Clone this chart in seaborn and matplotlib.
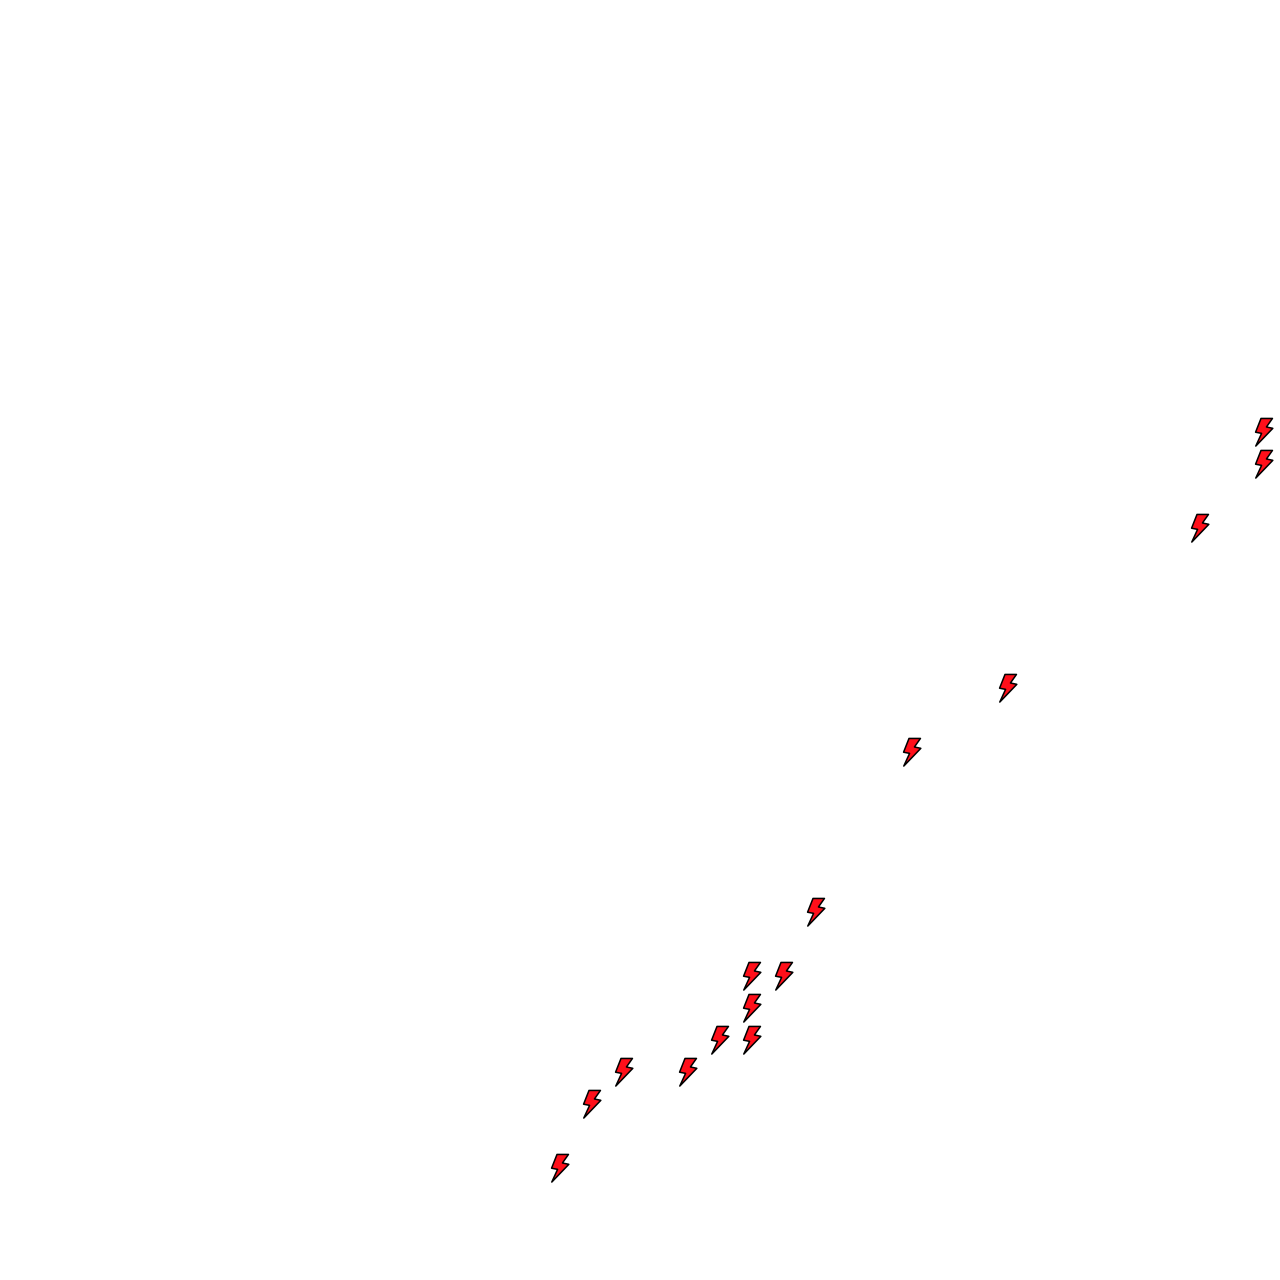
import matplotlib
matplotlib.use("Agg")
import matplotlib.pyplot as plt
from matplotlib.path import Path
import pandas as pd
import seaborn as sns

# Values, on a 0-40 grid in each direction
x_values = [17.5, 18.5, 19.5, 21.5, 22.5, 23.5, 23.5, 23.5, 24.5, 25.5, 28.5, 31.5, 37.5, 39.5, 39.5]
y_values = [3.5, 5.5, 6.5, 6.5, 7.5, 7.5, 8.5, 9.5, 9.5, 11.5, 16.5, 18.5, 23.5, 25.5, 26.5]

bolt_outline = [(-3.6, 14.5), (8.2, 14.5), (2.0, 5.7), (8.6, 4.3), (-9.0, -14.0),
                (-3.0, -0.9), (-9.2, 0.3), (-3.6, 14.5)]
bolt = Path(bolt_outline, closed=True)

sns.set_theme(style="white")
fig = plt.figure(figsize=(12.8, 12.8), dpi=100, facecolor="white")
ax = fig.add_axes([0, 0, 1, 1])
df = pd.DataFrame({"x": x_values, "y": y_values})
sns.scatterplot(data=df, x="x", y="y", ax=ax, marker=bolt, s=410, color="#ff0f1a",
                edgecolor="black", linewidth=1.1, clip_on=True, legend=False)
ax.set_xlim(0, 40)
ax.set_ylim(0, 40)
ax.set_axis_off()
fig.savefig("out.png", dpi=100, facecolor="white")
